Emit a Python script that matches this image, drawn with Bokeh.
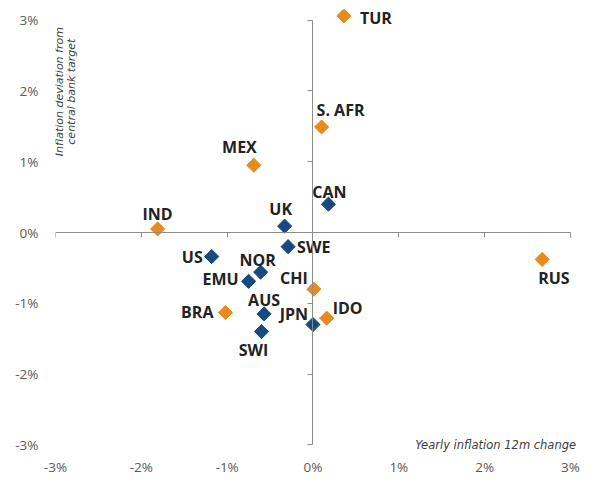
import math
from bokeh.plotting import figure
from bokeh.models import LinearAxis, FixedTicker, Range1d, Label, ColumnDataSource
from bokeh.core.properties import value
from bokeh.embed import file_html
from bokeh.resources import INLINE

# ---- data ----
emerging = ["TUR", "S. AFR", "MEX", "IND", "CHI", "BRA", "IDO", "RUS"]
emerging_x = [0.36, 0.10, -0.69, -1.81, 0.01, -1.02, 0.16, 2.67]
emerging_y = [3.06, 1.49, 0.95, 0.05, -0.80, -1.13, -1.21, -0.38]

developed = ["CAN", "UK", "SWE", "US", "NOR", "EMU", "AUS", "SWI", "JPN"]
developed_x = [0.18, -0.33, -0.29, -1.18, -0.61, -0.75, -0.57, -0.60, 0.00]
developed_y = [0.40, 0.09, -0.20, -0.34, -0.56, -0.69, -1.15, -1.40, -1.30]

tick_values = [-3, -2, -1, 0, 1, 2, 3]
tick_labels = ["-3%", "-2%", "-1%", "0%", "1%", "2%", "3%"]

x_title = "Yearly inflation 12m change"
y_title_lines = ["Inflation deviation from", "central bank target"]

# label placement (pixels, relative to marker): align, dx, dy (down positive)
label_place = {
    "TUR": ("left", 16, 2), "S. AFR": ("left", -5, -17), "MEX": ("right", 3, -18),
    "IND": ("center", 0, -15), "CHI": ("right", -6, -11), "BRA": ("right", -12, 0),
    "IDO": ("left", 6, -10), "RUS": ("left", -4, 19), "CAN": ("center", 1, -12),
    "UK": ("center", -4, -17), "SWE": ("left", 9, 0), "US": ("right", -9, 0),
    "NOR": ("center", -3, -12), "EMU": ("right", -10, -2), "AUS": ("center", 0, -14),
    "SWI": ("center", -8, 18), "JPN": ("right", -5, -11),
}

ORANGE = "#E98A1E"
BLUE = "#174A80"
TEXT = "#222222"
AXIS = "#8C8C8C"
TICKLBL = "#595959"
FONT = "Open Sans"
TFONT = "DejaVu Sans"

p = figure(width=584, height=484, output_backend="svg", toolbar_location=None,
           x_range=Range1d(-3, 3.07), y_range=Range1d(-3.15, 3.15),
           min_border_left=55, min_border_right=8, min_border_top=9, min_border_bottom=29)
p.outline_line_color = None
p.grid.visible = False
p.background_fill_color = "white"
p.border_fill_color = "white"

labels_map = {v: l for v, l in zip(tick_values, tick_labels)}

# label-only axes (default ones)
for ax in (p.xaxis[0], p.yaxis[0]):
    ax.ticker = FixedTicker(ticks=tick_values)
    ax.major_label_overrides = labels_map
    ax.axis_line_color = None
    ax.major_tick_line_color = None
    ax.minor_tick_line_color = None
    ax.major_tick_out = 0
    ax.major_tick_in = 0
    ax.major_label_text_font = FONT
    ax.major_label_text_font_size = "13.5px"
    ax.major_label_text_color = TICKLBL
p.xaxis[0].major_label_standoff = 2
p.yaxis[0].major_label_standoff = 17

# zero axes with line and ticks
def zero_axis(side):
    ax = LinearAxis(fixed_location=0, bounds=(-3, 3), ticker=FixedTicker(ticks=tick_values))
    ax.axis_line_color = AXIS
    ax.axis_line_width = 1
    ax.major_tick_line_color = AXIS
    ax.minor_tick_line_color = None
    ax.major_tick_out = 5
    ax.major_tick_in = 0
    ax.major_label_text_font_size = "0px"
    ax.major_label_standoff = 0
    ax.major_label_overrides = {v: "" for v in tick_values}
    p.add_layout(ax, side)

zero_axis("below")
zero_axis("left")

# markers
p.scatter(emerging_x, emerging_y, marker="square", angle=math.pi / 4, size=10,
          fill_color=ORANGE, line_color=ORANGE)
p.scatter(developed_x, developed_y, marker="square", angle=math.pi / 4, size=10,
          fill_color=BLUE, line_color=BLUE)

# point labels
names = emerging + developed
xs = emerging_x + developed_x
ys = emerging_y + developed_y
for align in ("left", "center", "right"):
    sel = [i for i, n in enumerate(names) if label_place[n][0] == align]
    src = ColumnDataSource(dict(
        x=[xs[i] for i in sel], y=[ys[i] for i in sel], t=[names[i] for i in sel],
        dx=[label_place[names[i]][1] for i in sel], dy=[label_place[names[i]][2] for i in sel]))
    p.text(x="x", y="y", text="t", x_offset="dx", y_offset="dy", source=src,
           text_align=align, text_baseline="middle", text_font=value(FONT),
           text_font_style="bold", text_font_size="16px", text_color=TEXT)

# axis titles
p.add_layout(Label(x=3.065, y=-3.0, text=x_title, text_align="right", text_baseline="middle",
                   text_font=TFONT, text_font_style="italic", text_font_size="11.5px",
                   text_color="#404040"))
for i, line in enumerate(y_title_lines):
    p.add_layout(Label(x=-2.953 + i * 0.14, y=1.99, text=line, angle=math.pi / 2,
                       text_align="center", text_baseline="middle",
                       text_font=TFONT, text_font_style="italic", text_font_size="11px",
                       text_color="#404040"))

open("out.html", "w").write(file_html(p, INLINE))
